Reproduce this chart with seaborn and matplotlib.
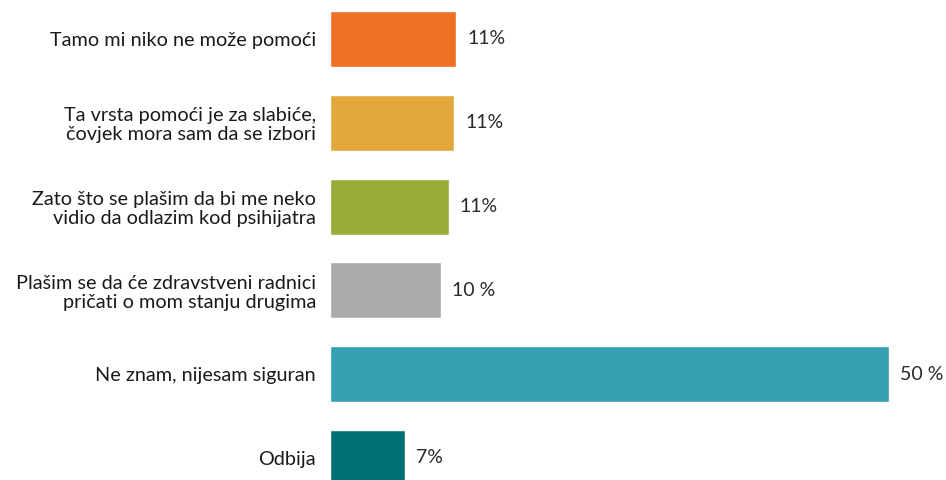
import seaborn as sns
import matplotlib.pyplot as plt
import pandas as pd

categories = [
    "Tamo mi niko ne može pomoći",
    "Ta vrsta pomoći je za slabiće,\nčovjek mora sam da se izbori",
    "Zato što se plašim da bi me neko\nvidio da odlazim kod psihijatra",
    "Plašim se da će zdravstveni radnici\npričati o mom stanju drugima",
    "Ne znam, nijesam siguran",
    "Odbija",
]
values = [11.3, 11.1, 10.6, 9.9, 50.0, 6.7]
value_labels = ["11%", "11%", "11%", "10 %", "50 %", "7%"]
colors = ["#EE7124", "#E2A83E", "#9AAB3A", "#A8ABAA", "#36A0B3", "#006F73"]

df = pd.DataFrame({"cat": categories, "val": values})

sns.set_theme(style="white")
plt.rcParams['font.family'] = ['Lato', 'DejaVu Sans']

fig = plt.figure(figsize=(9.46, 4.80), dpi=100)
ax = fig.add_axes([330 / 946, 0, 616 / 946, 1])
sns.barplot(data=df, y="cat", x="val", hue="cat", palette=colors, orient="h",
            width=0.668, legend=False, ax=ax, saturation=1)

for i, (v, lab) in enumerate(zip(values, value_labels)):
    ax.text(v + 1.0, i, lab, va="center", ha="left", fontsize=14,
            color="#2a2a2a")

ax.set_xlim(0, 616 / 11.18)
ax.set_ylim(5.263, -0.465)
ax.set_xlabel("")
ax.set_ylabel("")
ax.set_xticks([])
ax.tick_params(axis="y", length=0, pad=10, labelcolor="#1a1a1a")
for t in ax.get_yticklabels():
    t.set_fontsize(14.3)
    t.set_linespacing(1.12)
for s in ax.spines.values():
    s.set_visible(False)

fig.savefig("out.png", dpi=100)
